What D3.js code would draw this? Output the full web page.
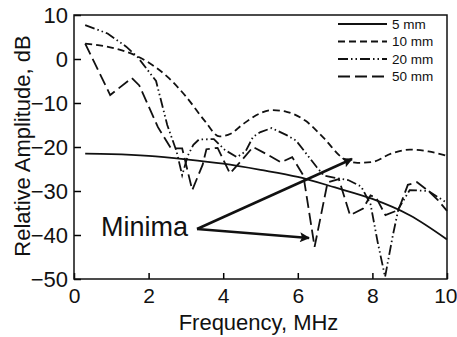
<!DOCTYPE html>
<html>
<head>
<meta charset="utf-8">
<script src="https://cdn.jsdelivr.net/npm/d3@7"></script>
<style>
  body { margin: 0; background: #fff; }
  svg { display: block; font-family: "Liberation Sans", Arial, sans-serif; }
</style>
</head>
<body>
<div id="chart"></div>
<script>
// Werte: [Frequenz MHz, dB]
const mm5 = [[0.3,-21.5],[1,-21.6],[2,-22],[3,-22.8],[4,-23.8],[5,-25.2],[6,-26.8],[7,-29.2],[8,-31.8],[9,-35.5],[10,-41]];
const mm10 = [[0.3,3.5],[1,2.6],[1.6,1],[2,-0.8],[2.5,-4],[3,-8.5],[3.5,-14],[3.9,-17.6],[4.2,-17],[4.5,-15],[5,-12.3],[5.3,-11.6],[5.7,-12],[6.2,-14],[6.7,-18],[7.2,-22.5],[7.6,-23.6],[8,-23.4],[8.5,-21.5],[9,-20.6],[9.5,-21],[10,-22]];
const mm20 = [[0.3,7.7],[0.9,5.8],[1.4,2.8],[1.7,0.5],[2.2,-5],[2.5,-15],[2.75,-21],[2.9,-26.4],[3.05,-22],[3.2,-19.5],[3.35,-18.3],[3.75,-18.2],[4.05,-20.7],[4.37,-22.3],[4.6,-21],[4.8,-17.7],[5.0,-16.6],[5.3,-15.7],[5.7,-17.3],[5.95,-18.5],[6.3,-22.3],[6.5,-24.5],[6.7,-26.5],[7.0,-27],[7.35,-27.5],[7.7,-29],[7.95,-33],[8.15,-42],[8.34,-49.5],[8.55,-40],[8.7,-34],[9.0,-29.8],[9.5,-30],[10,-32.7]];
const mm50 = [[0.3,3.5],[0.97,-8.2],[1.55,-4.3],[1.75,-6],[2.25,-15.5],[2.6,-20.3],[2.9,-20.3],[3.17,-29.8],[3.45,-24],[3.55,-20.5],[3.85,-20.2],[4.18,-26],[4.5,-23],[4.8,-20],[5.2,-21.8],[5.55,-23.5],[5.85,-22.3],[6.15,-26.5],[6.45,-42.7],[6.8,-28],[7.1,-27.3],[7.4,-35.5],[7.75,-34],[7.95,-31],[8.1,-31.5],[8.35,-35.5],[8.7,-34.3],[8.95,-28.6],[9.2,-28],[9.5,-30],[9.75,-32],[10,-34.5]];

const xTicks = [0, 2, 4, 6, 8, 10];
const yTicks = [10, 0, -10, -20, -30, -40, -50];
const legendLabels = ["5 mm", "10 mm", "20 mm", "50 mm"];

const width = 457, height = 337;
const marginLeft = 74, marginRight = 10, marginTop = 15, marginBottom = 58;

const x = d3.scaleLinear([0, 10], [marginLeft, width - marginRight]);
const y = d3.scaleLinear([-50, 10], [height - marginBottom, marginTop]);

const svg = d3.create("svg")
    .attr("width", width)
    .attr("height", height)
    .attr("viewBox", [0, 0, width, height]);

const series = [
  {name: legendLabels[0], data: mm5, dash: null, curve: d3.curveMonotoneX},
  {name: legendLabels[1], data: mm10, dash: "7,4", curve: d3.curveMonotoneX},
  {name: legendLabels[2], data: mm20, dash: "10,3,1.5,3,1.5,3", curve: d3.curveLinear},
  {name: legendLabels[3], data: mm50, dash: "12,5", curve: d3.curveLinear}
];

// Kurven
svg.append("g")
    .attr("fill", "none")
    .attr("stroke", "#111")
    .attr("stroke-width", 1.8)
  .selectAll("path")
  .data(series)
  .join("path")
    .attr("stroke-dasharray", d => d.dash)
    .attr("d", d => d3.line().curve(d.curve).x(p => x(p[0])).y(p => y(p[1]))(d.data));

// Achsen mit Ticks nach innen
svg.append("g")
    .attr("transform", `translate(0,${height - marginBottom})`)
    .call(d3.axisBottom(x).tickValues(xTicks).tickSize(-6).tickPadding(9))
    .call(g => g.select(".domain").remove())
    .call(g => g.selectAll(".tick line").attr("stroke-width", 1.5))
    .call(g => g.selectAll(".tick text").attr("font-size", 21).attr("fill", "#111"))
    .call(g => g.selectAll(".tick text").filter(d => d === 10).attr("text-anchor", "end").attr("x", 10));

svg.append("g")
    .attr("transform", `translate(${marginLeft},0)`)
    .call(d3.axisLeft(y).tickValues(yTicks).tickSize(-7).tickPadding(6))
    .call(g => g.select(".domain").remove())
    .call(g => g.selectAll(".tick line").attr("stroke-width", 1.5))
    .call(g => g.selectAll(".tick text").attr("font-size", 22).attr("fill", "#111"));

svg.append("rect")
    .attr("x", marginLeft)
    .attr("y", marginTop)
    .attr("width", width - marginLeft - marginRight)
    .attr("height", height - marginTop - marginBottom)
    .attr("fill", "none")
    .attr("stroke", "#111")
    .attr("stroke-width", 1.5);

// Achsentitel
svg.append("text")
    .attr("x", (marginLeft + width - marginRight) / 2 - 2)
    .attr("y", 330)
    .attr("text-anchor", "middle")
    .attr("font-size", 22)
    .attr("fill", "#111")
    .text("Frequency, MHz");

svg.append("text")
    .attr("transform", `translate(30,146) rotate(-90)`)
    .attr("text-anchor", "middle")
    .attr("font-size", 22)
    .attr("fill", "#111")
    .text("Relative Amplitude, dB");

// Legende
const legend = svg.append("g")
  .selectAll("g")
  .data(series)
  .join("g")
    .attr("transform", (d, i) => `translate(338,${24 + i * 17.5})`);

legend.append("line")
    .attr("x1", 0).attr("x2", 49)
    .attr("stroke", "#111")
    .attr("stroke-width", 1.8)
    .attr("stroke-dasharray", d => d.dash);

legend.append("text")
    .attr("x", 54)
    .attr("dy", "0.35em")
    .attr("font-size", 13.5)
    .attr("fill", "#111")
    .text(d => d.name);

// "Minima" mit Pfeilen
svg.append("defs").append("marker")
    .attr("id", "head")
    .attr("viewBox", "0 0 10 10")
    .attr("refX", 9).attr("refY", 5)
    .attr("markerWidth", 7).attr("markerHeight", 4)
    .attr("markerUnits", "strokeWidth")
    .attr("orient", "auto")
  .append("path")
    .attr("d", "M0,0L10,5L0,10L2,5Z")
    .attr("fill", "#111");

svg.append("text")
    .attr("x", 101)
    .attr("y", 236)
    .attr("font-size", 27)
    .attr("fill", "#111")
    .text("Minima");

const arrowStart = [197, 229];
const arrowTips = [[352, 159], [309, 238]];
svg.append("g")
    .attr("stroke", "#111")
    .attr("stroke-width", 2.5)
  .selectAll("line")
  .data(arrowTips)
  .join("line")
    .attr("x1", arrowStart[0]).attr("y1", arrowStart[1])
    .attr("x2", d => d[0]).attr("y2", d => d[1])
    .attr("marker-end", "url(#head)");

document.getElementById("chart").appendChild(svg.node());
</script>
</body>
</html>
